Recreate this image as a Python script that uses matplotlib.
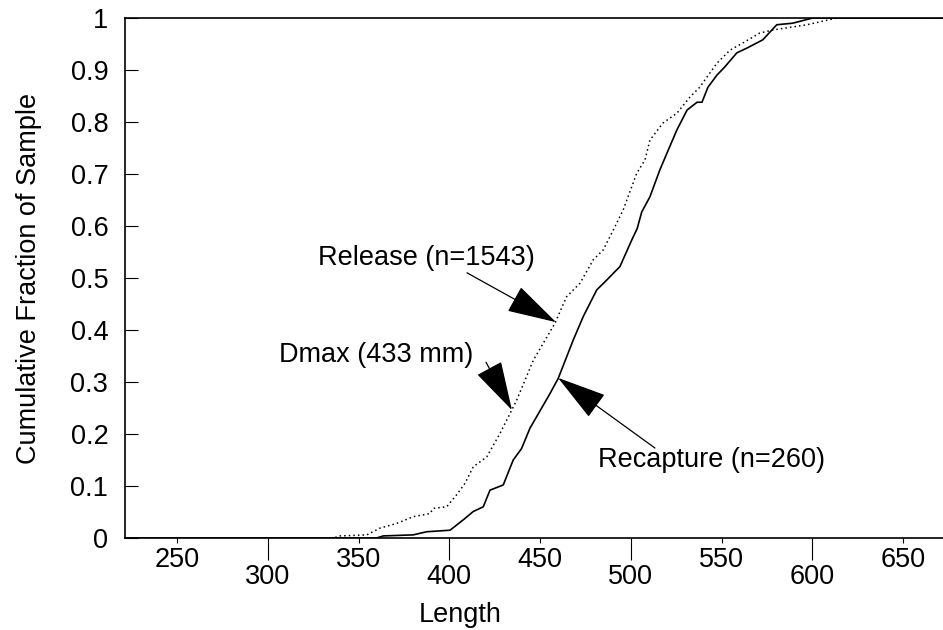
import matplotlib.pyplot as plt

plt.rcParams['font.family'] = ['Liberation Sans', 'DejaVu Sans']
plt.rcParams['font.size'] = 19.5

# Release (dotted)
x_rel = [221, 336, 339.8, 354.5, 361.8, 371.0, 380.1, 389.3, 391.2, 398.5, 404.0, 408.6,
         413.2, 420.6, 427.9, 434.4, 437.1, 446.3, 458.2, 464.6, 472.0, 479.3, 484.8,
         490.3, 495.8, 503.2, 507.8, 510.5, 517.7, 525.4, 532.6, 538.0, 547.4, 554.6,
         561.7, 571.0, 578.3, 597.0, 613.6, 672]
y_rel = [0, 0, 0.004, 0.006, 0.019, 0.028, 0.041, 0.047, 0.057, 0.060, 0.083, 0.105,
         0.137, 0.156, 0.201, 0.246, 0.265, 0.342, 0.413, 0.464, 0.490, 0.535, 0.554,
         0.592, 0.631, 0.701, 0.727, 0.765, 0.798, 0.817, 0.848, 0.867, 0.913, 0.938,
         0.952, 0.971, 0.977, 0.987, 1.0, 1.0]

# Recapture (solid)
x_rec = [221, 360, 363.6, 380.1, 387.5, 400.4, 407.7, 413.2, 418.7, 422.4, 429.7, 435.2,
         439.8, 444.4, 455.5, 460.0, 468.3, 473.8, 481.2, 486.7, 494.0, 500.5, 503.5,
         506.0, 510.5, 516.0, 519.9, 525.4, 531.0, 536.5, 539.2, 542.5, 547.4, 551.8,
         558.4, 563.9, 572.7, 580.4, 589.2, 600.2, 672]
y_rec = [0, 0, 0.004, 0.006, 0.012, 0.015, 0.035, 0.051, 0.060, 0.092, 0.102, 0.150,
         0.172, 0.211, 0.278, 0.307, 0.381, 0.426, 0.477, 0.496, 0.522, 0.573, 0.595,
         0.627, 0.656, 0.708, 0.740, 0.785, 0.823, 0.838, 0.838, 0.867, 0.890, 0.906,
         0.933, 0.942, 0.958, 0.987, 0.990, 1.0, 1.0]

x_major = [250, 350, 450, 550, 650]
x_minor = [300, 400, 500, 600]
y_ticks = [0, 0.1, 0.2, 0.3, 0.4, 0.5, 0.6, 0.7, 0.8, 0.9, 1]
y_labels = ['0', '0.1', '0.2', '0.3', '0.4', '0.5', '0.6', '0.7', '0.8', '0.9', '1']

fig = plt.figure(figsize=(9.43, 6.3), dpi=100)
ax = fig.add_axes([125 / 943, 92 / 630, 818 / 943, 520 / 630])

ax.plot(x_rel, y_rel, color='black', lw=1.1, ls=(0, (1, 2)))
ax.plot(x_rec, y_rec, color='black', lw=1.2)

ax.set_xlim(221.3, 672)
ax.set_ylim(0, 1)

ax.set_xticks(x_major, [str(v) for v in x_major])
ax.set_xticks(x_minor, [str(v) for v in x_minor], minor=True)
ax.tick_params(axis='x', which='major', direction='out', length=3.6, width=0.8, pad=3)
ax.tick_params(axis='x', which='minor', direction='out', length=16, width=0.8, pad=3,
               labelsize=19.5)
ax.set_yticks(y_ticks, y_labels)
ax.tick_params(axis='y', direction='in', length=9.4, width=0.8, pad=12)

ax.spines['right'].set_visible(False)
for s in ['left', 'top', 'bottom']:
    ax.spines[s].set_linewidth(1.2)

ax.set_xlabel('Length')
ax.xaxis.set_label_coords(0.41, -0.123)
ax.set_ylabel('Cumulative Fraction of Sample')
ax.yaxis.set_label_coords(-0.1015, 0.5)

arrow = dict(arrowstyle='-|>,head_length=1.6,head_width=0.45', mutation_scale=20,
             color='black', lw=0.9, shrinkA=0, shrinkB=0)

ax.annotate('', xy=(458.8, 0.415), xytext=(409.7, 0.510), arrowprops=arrow)
ax.text(387.1, 0.538, 'Release (n=1543)', ha='center', va='center')

ax.annotate('', xy=(434.5, 0.246), xytext=(420.2, 0.338), arrowprops=arrow)
ax.text(359.6, 0.352, 'Dmax (433 mm)', ha='center', va='center')

ax.annotate('', xy=(459.9, 0.308), xytext=(513.3, 0.173), arrowprops=arrow)
ax.text(544.7, 0.150, 'Recapture (n=260)', ha='center', va='center')

fig.savefig('out.png', dpi=100)
